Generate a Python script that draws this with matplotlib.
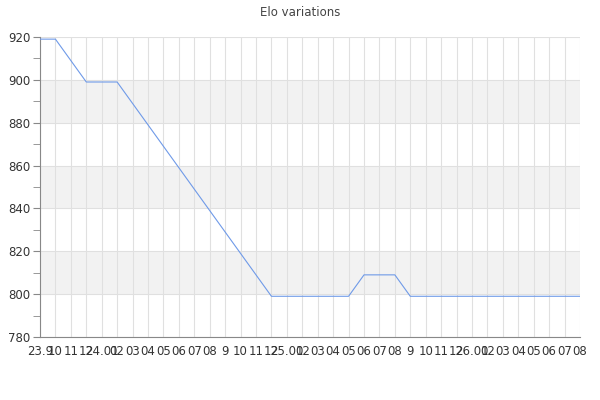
import matplotlib
matplotlib.use("Agg")
import matplotlib.pyplot as plt
from matplotlib.ticker import MultipleLocator

# Etiquetas del eje x (una por punto)
etiquetas = ["23.9", "10", "11", "12",
             "24.01", "02", "03", "04", "05", "06", "07", "08", "9", "10", "11", "12",
             "25.01", "02", "03", "04", "05", "06", "07", "08", "9", "10", "11", "12",
             "26.01", "02", "03", "04", "05", "06", "07", "08"]
elo = [919, 919, 909, 899, 899, 899, 889, 879, 869, 859, 849, 839, 829, 819, 809, 799,
       799, 799, 799, 799, 799, 809, 809, 809, 799, 799, 799, 799, 799, 799, 799, 799,
       799, 799, 799, 799]

fig = plt.figure(figsize=(6, 4), dpi=100)
ax = fig.add_axes([40/600, 1-337/400, 540/600, 300/400])

x = list(range(len(elo)))

# Bandas alternas
for lo in (800, 840, 880):
    ax.axhspan(lo, lo + 20, color="#f2f2f2", zorder=0, lw=0)

ax.plot(x, elo, color="#6f9ae8", lw=0.8, zorder=3)

ax.set_xlim(0, len(elo) - 1)
ax.set_ylim(780, 920)
ax.set_xticks(x)
ax.set_xticklabels(etiquetas, fontsize=8.5, color="#333333")
ax.yaxis.set_major_locator(MultipleLocator(20))
ax.yaxis.set_minor_locator(MultipleLocator(10))
ax.tick_params(axis="x", length=0, pad=6)
ax.tick_params(axis="y", which="both", length=5, color="#888888", labelsize=8.5,
               labelcolor="#333333", pad=2)

ax.grid(True, axis="both", color="#e0e0e0", lw=0.8, zorder=1)
ax.set_axisbelow(True)

for s in ("top", "right"):
    ax.spines[s].set_visible(False)
for s in ("left", "bottom"):
    ax.spines[s].set_color("#888888")
    ax.spines[s].set_linewidth(0.8)

fig.suptitle("Elo variations", y=0.985, fontsize=8.5, color="#444444")

fig.savefig("out.png", dpi=100)
